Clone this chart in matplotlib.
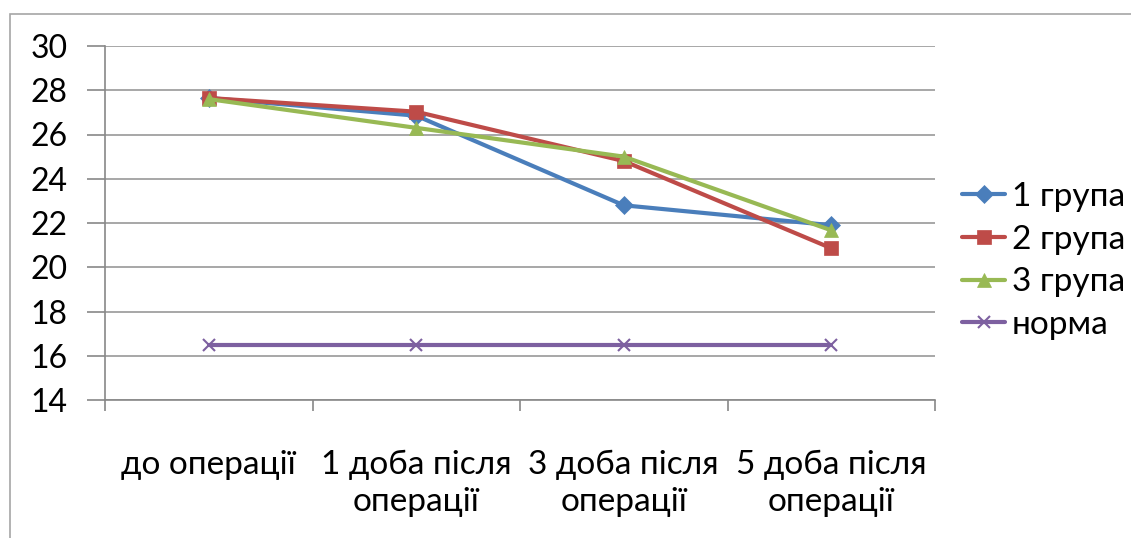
import matplotlib
matplotlib.use("Agg")
import matplotlib.pyplot as plt
from matplotlib.patches import Rectangle

categories = ["до операції", "1 доба після\nоперації", "3 доба після\nоперації", "5 доба після\nоперації"]
group1 = [27.65, 26.85, 22.8, 21.9]
group2 = [27.65, 27.03, 24.8, 20.86]
group3 = [27.6, 26.3, 25.0, 21.67]
norma = [16.47, 16.47, 16.47, 16.47]
series_names = ["1 група", "2 група", "3 група", "норма"]
yticks = [14, 16, 18, 20, 22, 24, 26, 28, 30]

plt.rcParams['font.family'] = ['Lato', 'DejaVu Sans']

W, H = 1131, 538
fig = plt.figure(figsize=(W / 100, H / 100), dpi=100)
fig.patches.append(Rectangle((10 / W, -0.1), 1.2, 1 - 14 / H + 0.1, transform=fig.transFigure,
                             fill=False, edgecolor='#A6A6A6', linewidth=1.2))

ax = fig.add_axes([105 / W, 1 - 400 / H, (935 - 105) / W, (400 - 46) / H])
x = list(range(len(categories)))

styles = [
    (group1, '#4A7EBB', 'D', 9),
    (group2, '#BE4B48', 's', 10),
    (group3, '#98B954', '^', 10.5),
    (norma, '#7D60A0', 'x', 9),
]
for (vals, col, mk, ms), name in zip(styles, series_names):
    ax.plot(x, vals, color=col, linewidth=3, marker=mk, markersize=ms,
            markeredgewidth=1.5 if mk == 'x' else 0.5, markeredgecolor=col,
            markerfacecolor=col, label=name, solid_capstyle='round', zorder=3)

ax.set_xlim(-0.5, 3.5)
ax.set_ylim(14, 30)
ax.set_yticks(yticks)
ax.set_yticklabels([str(v) for v in yticks], fontsize=23)
ax.yaxis.grid(True, color='#A0A0A0', linewidth=1.3)
ax.set_axisbelow(True)

ax.set_xticks([-0.5, 0.5, 1.5, 2.5, 3.5])
ax.set_xticklabels([])
ax.set_xticks(x, minor=True)
ax.set_xticklabels(categories, minor=True, fontsize=24, linespacing=1.3)
ax.tick_params(axis='x', which='minor', length=0, pad=36)
ax.tick_params(axis='x', which='major', length=8, color='#888888', width=1.2, direction='out')
ax.tick_params(axis='y', length=13, color='#888888', width=1.2, pad=14)

for s in ['top', 'right']:
    ax.spines[s].set_visible(False)
for s in ['left', 'bottom']:
    ax.spines[s].set_color('#888888')
    ax.spines[s].set_linewidth(1.2)

fig.legend(loc='center left', bbox_to_anchor=(962 / W, 1 - 261 / H), frameon=False,
           fontsize=24, handlelength=1.3, handletextpad=0.2, labelspacing=0.38,
           borderaxespad=0, borderpad=0)

fig.savefig("out.png", dpi=100)
